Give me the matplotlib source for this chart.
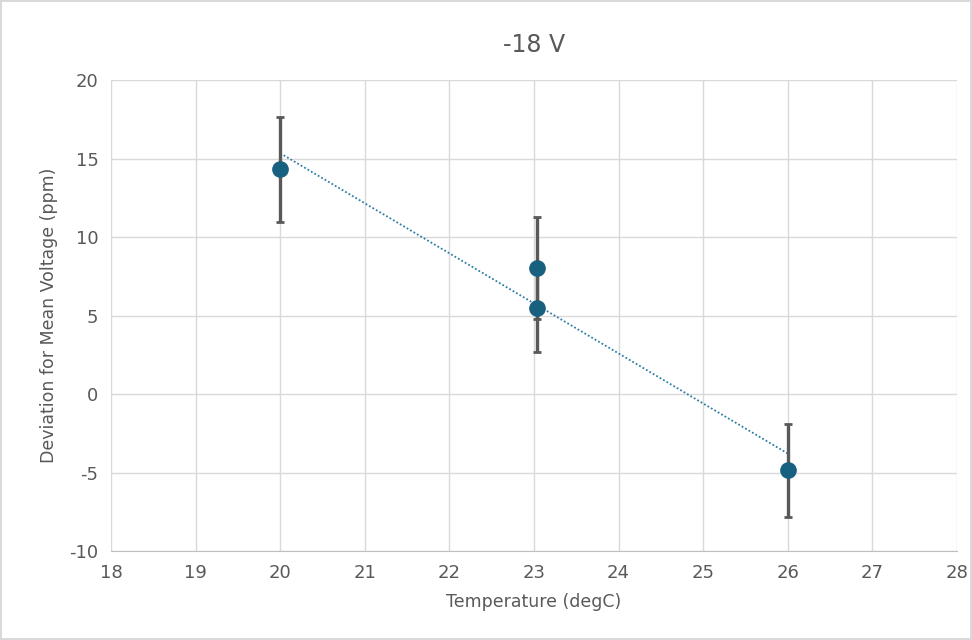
import numpy as np
import matplotlib.pyplot as plt

plt.rcParams['axes.unicode_minus'] = False

# データ
temperature = [20.0, 23.03, 23.03, 26.0]
deviation = [14.3, 8.0, 5.45, -4.85]
error = [3.35, 3.25, 2.8, 2.97]

x_ticks = list(range(18, 29))
y_ticks = list(range(-10, 21, 5))

fig = plt.figure(figsize=(9.72, 6.4), dpi=100)
fig.patch.set_edgecolor('#D9D9D9')
fig.patch.set_linewidth(1.5)
ax = fig.add_axes([0.1142, 0.139, 0.8704, 0.736])

# グリッド
ax.set_xlim(18, 28)
ax.set_ylim(-10, 20)
ax.set_xticks(x_ticks)
ax.set_yticks(y_ticks)
ax.grid(True, color='#D9D9D9', linewidth=1)
ax.set_axisbelow(True)
for s in ax.spines.values():
    s.set_visible(False)
ax.spines['bottom'].set_visible(True)
ax.spines['bottom'].set_color('#BFBFBF')
ax.tick_params(length=0, labelsize=13, labelcolor='#595959', pad=9)

# 近似直線
coef = np.polyfit(temperature, deviation, 1)
xs = np.array([min(temperature), max(temperature)])
ax.plot(xs, np.polyval(coef, xs), linestyle=(0, (1, 1.2)), color='#2E7DA6', linewidth=1.3)

# 誤差棒と点
ax.errorbar(temperature, deviation, yerr=error, fmt='none', ecolor='#595959',
            elinewidth=2.4, capsize=3, capthick=2)
ax.plot(temperature, deviation, 'o', color='#17607F', markersize=11, zorder=5)

ax.set_title('-18 V', fontsize=17, color='#595959', pad=20)
ax.set_xlabel('Temperature (degC)', fontsize=12.5, color='#595959', labelpad=8)
ax.set_ylabel('Deviation for Mean Voltage (ppm)', fontsize=12.5, color='#595959', labelpad=8)

fig.savefig('out.png')
